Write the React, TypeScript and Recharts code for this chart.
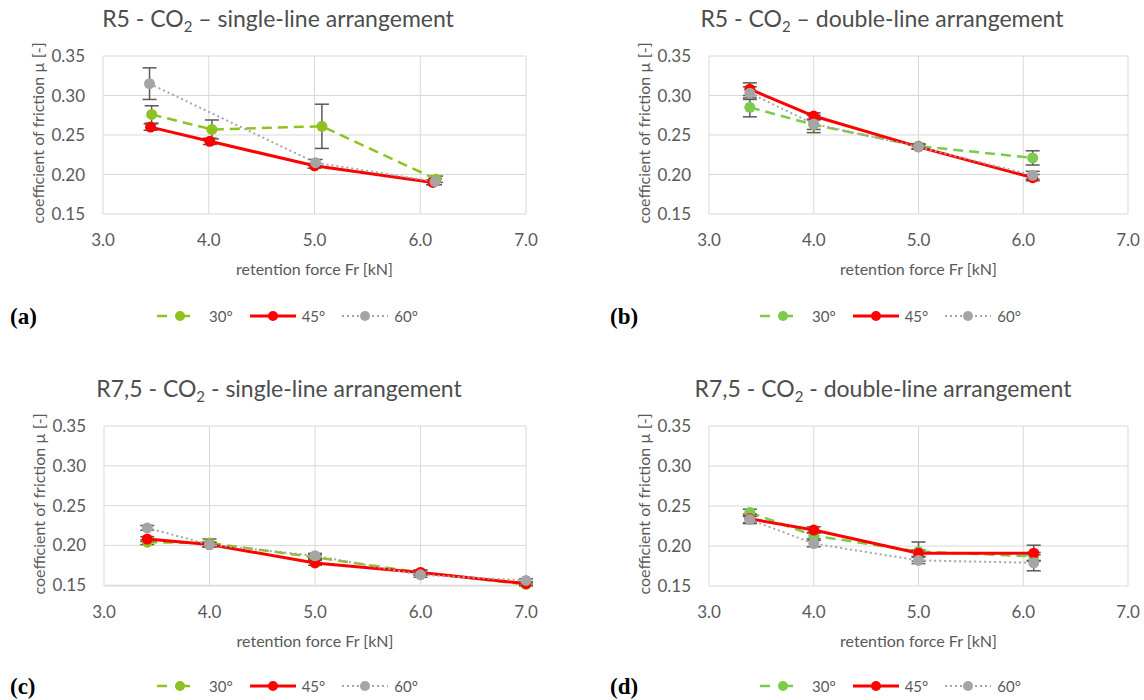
import React from "react";
import { CartesianGrid, ErrorBar, Line, LineChart, XAxis, YAxis } from "recharts";

// retention force Fr [kN] / coefficient of friction µ / error (±)
// (a) R5 - CO2 - single-line
const aFr30 = [3.46, 4.03, 5.07, 6.15];
const aMu30 = [0.276, 0.257, 0.261, 0.194];
const aErr30 = [0.011, 0.012, 0.028, 0.004];
const aFr45 = [3.45, 4.01, 5.0, 6.12];
const aMu45 = [0.26, 0.242, 0.211, 0.19];
const aErr45 = [0.004, 0.004, 0.003, 0.003];
const aFr60 = [3.44, 5.01, 6.14];
const aMu60 = [0.315, 0.215, 0.191];
const aErr60 = [0.02, 0.004, 0.004];

// (b) R5 - CO2 - double-line
const bFr = [3.39, 4.0, 5.0, 6.09];
const bMu30 = [0.285, 0.263, 0.236, 0.221];
const bErr30 = [0.012, 0.006, 0.003, 0.009];
const bMu45 = [0.308, 0.274, 0.235, 0.196];
const bErr45 = [0.008, 0.004, 0.003, 0.004];
const bMu60 = [0.303, 0.264, 0.235, 0.199];
const bErr60 = [0.008, 0.011, 0.003, 0.005];

// (c) R7,5 - CO2 - single-line
const cFr = [3.41, 4.0, 5.0, 6.0, 7.0];
const cMu30 = [0.204, 0.203, 0.185, 0.166, 0.151];
const cErr30 = [0.003, 0.005, 0.003, 0.003, 0.002];
const cMu45 = [0.208, 0.201, 0.178, 0.166, 0.152];
const cErr45 = [0.003, 0.003, 0.003, 0.003, 0.002];
const cMu60 = [0.222, 0.201, 0.187, 0.163, 0.156];
const cErr60 = [0.003, 0.003, 0.003, 0.003, 0.002];

// (d) R7,5 - CO2 - double-line
const dFr = [3.39, 4.0, 5.0, 6.1];
const dMu30 = [0.242, 0.213, 0.193, 0.187];
const dErr30 = [0.004, 0.004, 0.012, 0.005];
const dMu45 = [0.234, 0.22, 0.191, 0.191];
const dErr45 = [0.006, 0.004, 0.004, 0.01];
const dMu60 = [0.233, 0.203, 0.182, 0.179];
const dErr60 = [0.004, 0.004, 0.004, 0.01];

const xTicks = [3, 4, 5, 6, 7];
const yTicks = [0.15, 0.2, 0.25, 0.3, 0.35];
const seriesNames = ["30°", "45°", "60°"];

const RED = "#FF0000";
const GRAY = "#A5A5A5";
const TXT = "#595959";
const FONT = "Lato, 'Open Sans', sans-serif";

const pts = (fr: number[], mu: number[], err: number[]) =>
  fr.map((x, i) => ({ fr: x, mu: mu[i], err: err[i] }));

type Panel = {
  letter: string;
  name: string;
  sep: string;
  arr: string;
  plot: { l: number; r: number; t: number; b: number };
  titleX: number;
  legendX: number;
  green: string;
  s30: ReturnType<typeof pts>;
  s45: ReturnType<typeof pts>;
  s60: ReturnType<typeof pts>;
};

const panels: Panel[] = [
  {
    letter: "(a)", name: "R5", sep: "–", arr: "single-line arrangement",
    plot: { l: 103, r: 526, t: 56, b: 214 }, titleX: 278, legendX: 157, green: "#8DC21F",
    s30: pts(aFr30, aMu30, aErr30), s45: pts(aFr45, aMu45, aErr45), s60: pts(aFr60, aMu60, aErr60),
  },
  {
    letter: "(b)", name: "R5", sep: "–", arr: "double-line arrangement",
    plot: { l: 709, r: 1128, t: 56, b: 214 }, titleX: 882, legendX: 760, green: "#7CCB4A",
    s30: pts(bFr, bMu30, bErr30), s45: pts(bFr, bMu45, bErr45), s60: pts(bFr, bMu60, bErr60),
  },
  {
    letter: "(c)", name: "R7,5", sep: "-", arr: "single-line arrangement",
    plot: { l: 104, r: 526, t: 426, b: 586 }, titleX: 279, legendX: 157, green: "#8DC21F",
    s30: pts(cFr, cMu30, cErr30), s45: pts(cFr, cMu45, cErr45), s60: pts(cFr, cMu60, cErr60),
  },
  {
    letter: "(d)", name: "R7,5", sep: "-", arr: "double-line arrangement",
    plot: { l: 709, r: 1128, t: 426, b: 586 }, titleX: 883, legendX: 760, green: "#7CCB4A",
    s30: pts(dFr, dMu30, dErr30), s45: pts(dFr, dMu45, dErr45), s60: pts(dFr, dMu60, dErr60),
  },
];

const styles = [
  { dash: "10 6", width: 2.5 },
  { dash: undefined, width: 3 },
  { dash: "2 3", width: 2 },
];

function LegendRow({ x, y, green }: { x: number; y: number; green: string }) {
  const colors = [green, RED, GRAY];
  return (
    <div
      style={{
        position: "absolute", left: x, top: y, transform: "translateY(-50%)",
        display: "flex", alignItems: "center", fontFamily: FONT, fontSize: 15, color: TXT,
      }}
    >
      {seriesNames.map((n, i) => (
        <div key={n} style={{ display: "flex", alignItems: "center", marginRight: 17 }}>
          <svg width={46} height={12}>
            <line x1={0} y1={6} x2={46} y2={6} stroke={colors[i]} strokeWidth={styles[i].width}
              strokeDasharray={i === 0 ? "10 13" : styles[i].dash} />
            <circle cx={23} cy={6} r={5} fill={colors[i]} />
          </svg>
          <span style={{ marginLeft: 6 }}>{n}</span>
        </div>
      ))}
    </div>
  );
}

function FrictionPanel({ p }: { p: Panel }) {
  const { l, r, t, b } = p.plot;
  const yAxisW = 60;
  const mTop = 10;
  const mRight = 14;
  const xAxisH = 40;
  const w = yAxisW + (r - l) + mRight;
  const h = mTop + (b - t) + xAxisH;
  const colors = [p.green, RED, GRAY];
  const series = [p.s30, p.s45, p.s60];

  return (
    <>
      <div
        style={{
          position: "absolute", left: p.titleX, top: t - 38, transform: "translate(-50%, -50%)",
          fontFamily: FONT, fontSize: 23, color: "#4D4D4D", whiteSpace: "nowrap", lineHeight: "28px",
        }}
      >
        {p.name} - CO<sub style={{ fontSize: 15, verticalAlign: "-5px", lineHeight: 0 }}>2</sub> {p.sep} {p.arr}
      </div>
      <div
        style={{
          position: "absolute", left: l - 66.5, top: (t + b) / 2 - 2,
          transform: "translate(-50%, -50%) rotate(-90deg)",
          fontFamily: FONT, fontSize: 16, color: TXT, whiteSpace: "nowrap",
        }}
      >
        coefficient of friction µ [-]
      </div>
      <div
        style={{
          position: "absolute", left: (l + r) / 2, top: b + 54, transform: "translate(-50%, -50%)",
          fontFamily: FONT, fontSize: 16, color: TXT, whiteSpace: "nowrap",
        }}
      >
        retention force Fr [kN]
      </div>
      <div style={{ position: "absolute", left: l - yAxisW, top: t - mTop }}>
        <LineChart width={w} height={h} margin={{ top: mTop, right: mRight, bottom: 0, left: 0 }}>
          <CartesianGrid stroke="#D9D9D9" strokeWidth={1} />
          <XAxis
            type="number"
            dataKey="fr"
            domain={[3, 7]}
            ticks={xTicks}
            tickFormatter={(v: number) => v.toFixed(1)}
            height={xAxisH}
            axisLine={false}
            tickLine={false}
            tickMargin={14}
            tick={{ fontSize: 17, fill: TXT, fontFamily: FONT }}
          />
          <YAxis
            type="number"
            domain={[0.15, 0.35]}
            ticks={yTicks}
            tickFormatter={(v: number) => v.toFixed(2)}
            width={yAxisW}
            axisLine={false}
            tickLine={false}
            tickMargin={12}
            tick={{ fontSize: 17, fill: TXT, fontFamily: FONT }}
          />
          {series.map((d, i) => (
            <Line
              key={seriesNames[i]}
              data={d}
              dataKey="mu"
              name={seriesNames[i]}
              type="linear"
              stroke={colors[i]}
              strokeWidth={styles[i].width}
              strokeDasharray={styles[i].dash}
              dot={{ r: 5.5, fill: colors[i], stroke: "none" }}
              isAnimationActive={false}
            >
              <ErrorBar dataKey="err" direction="y" width={7} stroke="#595959" strokeWidth={1.5} />
            </Line>
          ))}
        </LineChart>
      </div>
      <LegendRow x={p.legendX} y={t + 260} green={p.green} />
      <div
        style={{
          position: "absolute", left: l < 300 ? 10 : 610, top: t + 261, transform: "translateY(-50%)",
          fontFamily: "'Liberation Serif', 'Times New Roman', serif", fontWeight: "bold", fontSize: 23,
          color: "#000",
        }}
      >
        {p.letter}
      </div>
    </>
  );
}

export default function App() {
  return (
    <div style={{ position: "absolute", left: 0, top: 0, width: 1144, height: 700, background: "#fff" }}>
      {panels.map((p) => (
        <FrictionPanel key={p.letter} p={p} />
      ))}
    </div>
  );
}
